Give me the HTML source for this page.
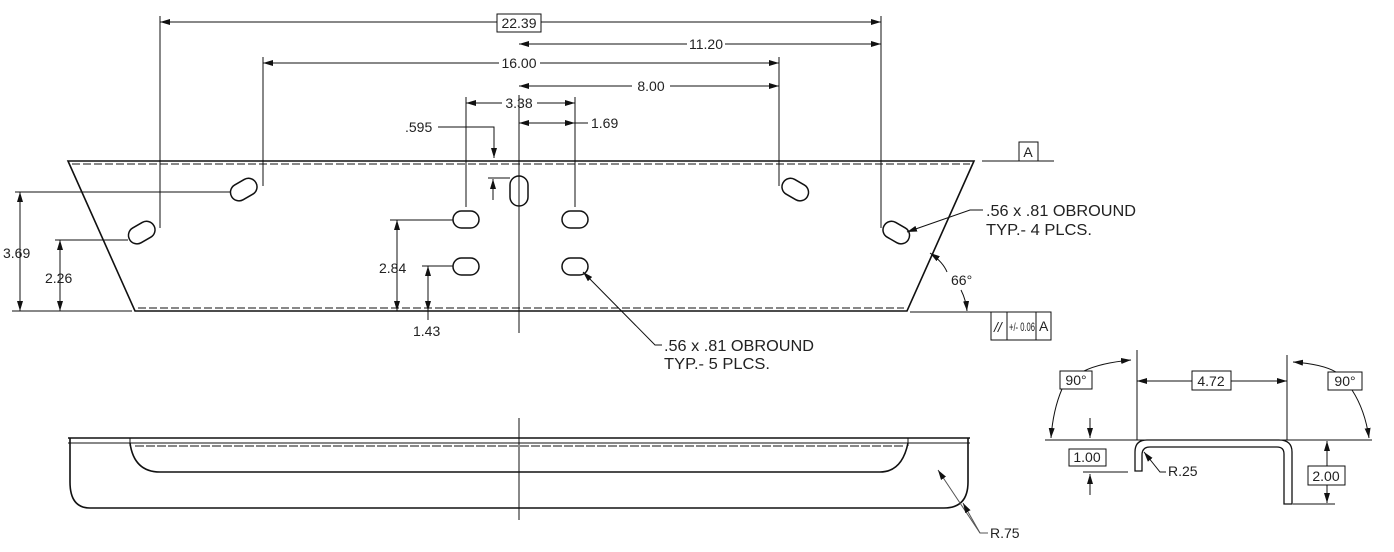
<!DOCTYPE html>
<html><head><meta charset="utf-8"><style>
html,body{margin:0;padding:0;background:#fff}
svg{display:block}
text{font-family:"Liberation Sans",Arial,sans-serif;font-size:14px;fill:#222}
.b{font-size:16px}
</style></head><body>
<svg width="1394" height="552" viewBox="0 0 1394 552" xmlns="http://www.w3.org/2000/svg">
<defs>
<marker id="a" viewBox="0 0 10 6" refX="10" refY="3" markerWidth="10" markerHeight="6" orient="auto-start-reverse" markerUnits="userSpaceOnUse"><path d="M0,0L10,3L0,6z" fill="#111"/></marker>
</defs>
<g stroke="#111" fill="none" stroke-width="1">
<path d="M68,161H974L907,311H135Z" stroke-width="1.6"/>
<line x1="72" y1="164" x2="970" y2="164" stroke-dasharray="8,3"/>
<line x1="138" y1="308" x2="904" y2="308" stroke-dasharray="8,3"/>
<line x1="519" y1="95" x2="519" y2="333"/>
<rect x="230" y="181" width="28" height="17" rx="8.5" transform="rotate(-30 244 190)" stroke-width="1.5"/>
<rect x="128" y="224" width="28" height="17" rx="8.5" transform="rotate(-30 142 233)" stroke-width="1.5"/>
<rect x="781" y="181" width="28" height="17" rx="8.5" transform="rotate(30 795 190)" stroke-width="1.5"/>
<rect x="882" y="224" width="28" height="17" rx="8.5" transform="rotate(30 896 233)" stroke-width="1.5"/>
<rect x="510" y="176" width="18" height="30" rx="9" stroke-width="1.5"/>
<rect x="453" y="211" width="26" height="17" rx="8.5" stroke-width="1.5"/>
<rect x="562" y="211" width="26" height="17" rx="8.5" stroke-width="1.5"/>
<rect x="453" y="258" width="26" height="17" rx="8.5" stroke-width="1.5"/>
<rect x="562" y="258" width="26" height="17" rx="8.5" stroke-width="1.5"/>
<line x1="160" y1="16" x2="160" y2="228"/>
<line x1="263" y1="57" x2="263" y2="186"/>
<line x1="779" y1="57" x2="779" y2="186"/>
<line x1="881" y1="16" x2="881" y2="228"/>
<line x1="466" y1="97" x2="466" y2="207"/>
<line x1="575" y1="97" x2="575" y2="207"/>
<line x1="160" y1="22" x2="497" y2="22" marker-start="url(#a)"/>
<line x1="541" y1="22" x2="881" y2="22" marker-end="url(#a)"/>
<line x1="519" y1="44" x2="687" y2="44" marker-start="url(#a)"/>
<line x1="725" y1="44" x2="881" y2="44" marker-end="url(#a)"/>
<line x1="263" y1="63" x2="499" y2="63" marker-start="url(#a)"/>
<line x1="540" y1="63" x2="779" y2="63" marker-end="url(#a)"/>
<line x1="519" y1="86" x2="632" y2="86" marker-start="url(#a)"/>
<line x1="670" y1="86" x2="779" y2="86" marker-end="url(#a)"/>
<line x1="466" y1="103" x2="502" y2="103" marker-start="url(#a)"/>
<line x1="537" y1="103" x2="575" y2="103" marker-end="url(#a)"/>
<line x1="519" y1="123" x2="575" y2="123" marker-start="url(#a)" marker-end="url(#a)"/>
<line x1="575" y1="123" x2="588" y2="123"/>
<polyline points="438,127 494,127 494,158" marker-end="url(#a)"/>
<line x1="488" y1="178" x2="510" y2="178"/>
<line x1="493" y1="200" x2="493" y2="179" marker-end="url(#a)"/>
<line x1="15" y1="192" x2="230" y2="192"/>
<line x1="55" y1="240" x2="128" y2="240"/>
<line x1="12" y1="311" x2="132" y2="311"/>
<line x1="20" y1="192" x2="20" y2="311" marker-start="url(#a)" marker-end="url(#a)"/>
<line x1="60" y1="240" x2="60" y2="311" marker-start="url(#a)" marker-end="url(#a)"/>
<line x1="390" y1="220" x2="453" y2="220"/>
<line x1="397" y1="220" x2="397" y2="311" marker-start="url(#a)" marker-end="url(#a)"/>
<line x1="422" y1="266" x2="453" y2="266"/>
<line x1="428" y1="266" x2="428" y2="311" marker-start="url(#a)" marker-end="url(#a)"/>
<line x1="428" y1="311" x2="428" y2="320"/>
<line x1="982" y1="161" x2="1054" y2="161"/>
<rect x="1019" y="142" width="19" height="19"/>
<line x1="910" y1="312" x2="1051" y2="312"/>
<rect x="991" y="312" width="60" height="28"/>
<line x1="1007" y1="312" x2="1007" y2="340"/>
<line x1="1036" y1="312" x2="1036" y2="340"/>
<path d="M930,253 Q943,262 947,272" marker-start="url(#a)"/>
<path d="M961,290 Q966,300 967,311" marker-end="url(#a)"/>
<polyline points="983,210 970,210 907,232" marker-end="url(#a)"/>
<polyline points="662,345 655,345 583,272" marker-end="url(#a)"/>
<line x1="68" y1="438" x2="970" y2="438" stroke-width="1.6"/>
<line x1="68" y1="443" x2="970" y2="443"/>
<line x1="135" y1="446" x2="905" y2="446" stroke-dasharray="9,2"/>
<path d="M70,438 V482 Q70,508 90,508 H944 Q968,508 968,482 V438" stroke-width="1.6"/>
<path d="M130,443 Q134,472 160,472 H880 Q902,472 908,443" stroke-width="1.6"/>
<line x1="130" y1="438" x2="130" y2="446"/>
<line x1="908" y1="438" x2="908" y2="446"/>
<line x1="519" y1="418" x2="519" y2="520"/>
<polyline points="988,533 980,533 938,470" stroke="#555" marker-end="url(#a)"/>
<line x1="980" y1="533" x2="963" y2="503" stroke="#555" marker-end="url(#a)"/>
<line x1="1045" y1="440" x2="1372" y2="440"/>
<line x1="1137" y1="350" x2="1137" y2="440"/>
<line x1="1287" y1="355" x2="1287" y2="440"/>
<line x1="1137" y1="381" x2="1192" y2="381" marker-start="url(#a)"/>
<line x1="1231" y1="381" x2="1287" y2="381" marker-end="url(#a)"/>
<path d="M1131,360 Q1100,363 1084,371" marker-start="url(#a)"/>
<path d="M1062,389 Q1053,410 1051,438" marker-end="url(#a)"/>
<path d="M1293,362 Q1322,364 1336,372" marker-start="url(#a)"/>
<path d="M1352,390 Q1365,410 1369,438" marker-end="url(#a)"/>
<rect x="1192" y="371" width="39" height="19" fill="#fff"/>
<rect x="1060" y="371" width="32" height="18" fill="#fff"/>
<rect x="1328" y="372" width="34" height="18" fill="#fff"/>
<path d="M1135,471 V452 Q1135,440 1147,440 H1279 Q1292,440 1292,452 V504 H1284 V454 Q1284,447 1277,447 H1150 Q1142,447 1142,455 V471 Z" stroke-width="1.3"/>
<rect x="1069" y="449" width="37" height="17"/>
<line x1="1090" y1="418" x2="1090" y2="438" marker-end="url(#a)"/>
<line x1="1090" y1="495" x2="1090" y2="474" marker-end="url(#a)"/>
<line x1="1083" y1="472" x2="1128" y2="472"/>
<polyline points="1166,472 1160,472 1144,452" marker-end="url(#a)"/>
<rect x="1308" y="466" width="37" height="19"/>
<line x1="1327" y1="466" x2="1327" y2="441" marker-end="url(#a)"/>
<line x1="1327" y1="485" x2="1327" y2="503" marker-end="url(#a)"/>
<line x1="1293" y1="504" x2="1335" y2="504"/>
<rect x="497" y="14" width="44" height="18"/>
</g>
<g>
<text x="519" y="28" text-anchor="middle">22.39</text>
<text x="706" y="49" text-anchor="middle">11.20</text>
<text x="519" y="68" text-anchor="middle">16.00</text>
<text x="651" y="91" text-anchor="middle">8.00</text>
<text x="519" y="108" text-anchor="middle">3.38</text>
<text x="591" y="128">1.69</text>
<text x="405" y="132">.595</text>
<text x="3" y="258">3.69</text>
<text x="45" y="283">2.26</text>
<text x="379" y="273">2.84</text>
<text x="413" y="336">1.43</text>
<text x="1028" y="157" text-anchor="middle">A</text>
<text x="994" y="332" style="font-style:italic">//</text>
<text x="1009" y="331" style="font-size:12px" textLength="26" lengthAdjust="spacingAndGlyphs">+/- 0.06</text>
<text x="1039" y="331">A</text>
<text x="951" y="285">66°</text>
<text class="b" x="986" y="216" textLength="150" lengthAdjust="spacingAndGlyphs">.56 x .81 OBROUND</text>
<text class="b" x="986" y="235" textLength="106" lengthAdjust="spacingAndGlyphs">TYP.- 4 PLCS.</text>
<text class="b" x="664" y="351" textLength="150" lengthAdjust="spacingAndGlyphs">.56 x .81 OBROUND</text>
<text class="b" x="664" y="369" textLength="106" lengthAdjust="spacingAndGlyphs">TYP.- 5 PLCS.</text>
<text x="990" y="538">R.75</text>
<text x="1211" y="386" text-anchor="middle">4.72</text>
<text x="1076" y="385" text-anchor="middle">90°</text>
<text x="1345" y="386" text-anchor="middle">90°</text>
<text x="1087" y="462" text-anchor="middle">1.00</text>
<text x="1168" y="476">R.25</text>
<text x="1326" y="481" text-anchor="middle">2.00</text>
</g>
</svg>
</body></html>
